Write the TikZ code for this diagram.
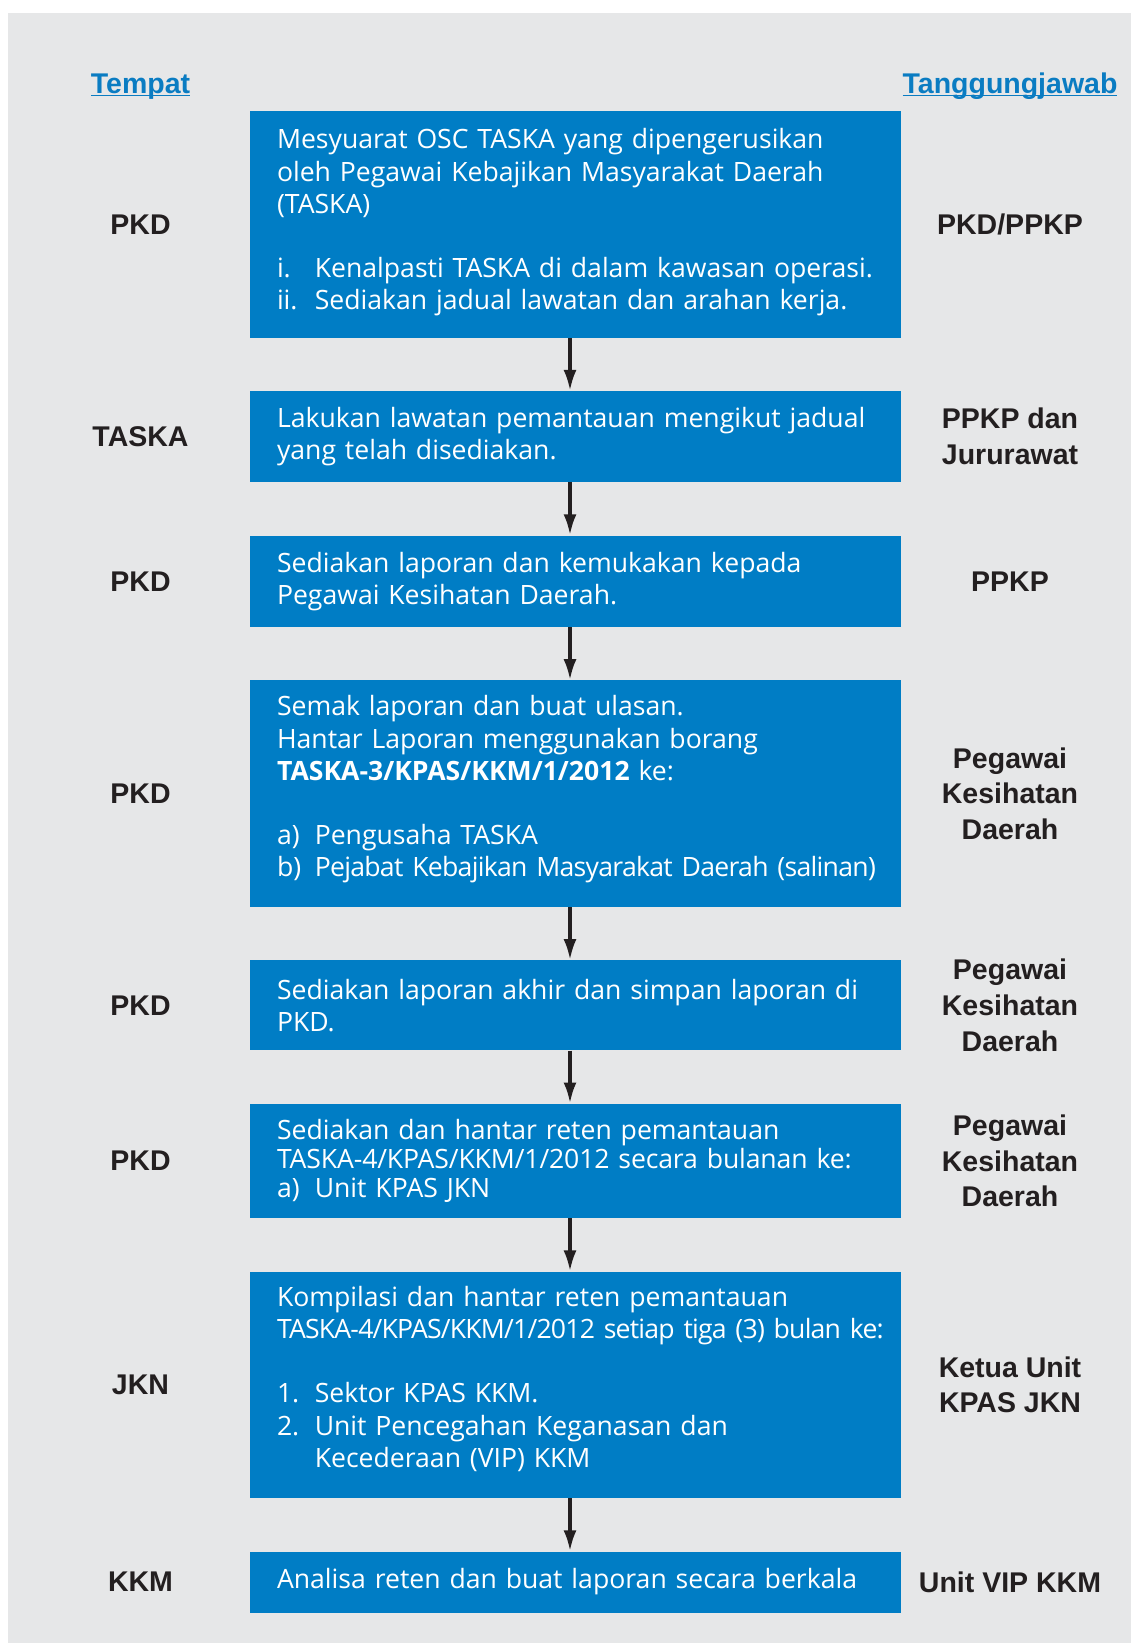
\documentclass[tikz,border=0pt]{standalone}
\usepackage{fontspec}
\setmainfont{Open Sans}
\newfontfamily\lblfont{Liberation Sans}
\usetikzlibrary{positioning,arrows.meta}
\definecolor{boxblue}{RGB}{0,125,197}
\definecolor{bggray}{RGB}{230,231,232}
\definecolor{headblue}{RGB}{10,124,194}
\definecolor{inkblack}{RGB}{35,31,32}
\newcommand\itm[1]{\makebox[37.8pt][l]{#1}}
\newcommand\tightline[2]{\mbox{\addfontfeatures{LetterSpace=#1}#2}}
\newcommand\hdrule[1]{\setbox0\hbox{#1}\rlap{\color{headblue}\rule[-3.2pt]{\wd0}{1.5pt}}\box0}
\tikzset{
  stepbox/.style={fill=boxblue, text=white, text width=597pt, inner xsep=27pt, inner ysep=0pt, align=left,
    font=\fontsize{26.6}{32.2}\selectfont},
  lift/.style={execute at end node={\par\vspace*{#1}}},
  place/.style={font=\lblfont\bfseries\fontsize{28.5}{35.6}\selectfont, text=inkblack, align=center},
  head/.style={font=\lblfont\bfseries\fontsize{28.5}{34}\selectfont, text=headblue, anchor=base},
  flow/.style={->, draw=inkblack, line width=3.5pt}
}
\begin{document}
\begin{tikzpicture}[x=1pt,y=-1pt,node distance=53pt,>={Latex[length=21pt,width=13pt]}]
\useasboundingbox (0,0) rectangle (1131,1643);
\fill[bggray] (8,13) rectangle (1131,1643);
\coordinate (lcol) at (140.5,0);
\coordinate (rcol) at (1010,0);
\coordinate (acol) at (570,0);
% headings
\node[head] (htempat) at (140.5,93.3) {\hdrule{Tempat}};
\node[head] (htanggung) at (1010,93.3) {\hdrule{Tanggungjawab}};
% steps
\node[stepbox, lift=4pt, minimum height=226.5pt, anchor=north] (s1) at (575.5,111) {Mesyuarat OSC TASKA yang dipengerusikan\\ oleh Pegawai Kebajikan Masyarakat Daerah\\ (TASKA)\\[32.2pt] \itm{i.}Kenalpasti TASKA di dalam kawasan operasi.\\ \itm{ii.}Sediakan jadual lawatan dan arahan kerja.};
\node[stepbox, minimum height=91pt, below=of s1] (s2) {Lakukan lawatan pemantauan mengikut jadual\\ yang telah disediakan.};
\node[stepbox, minimum height=91.5pt, below=of s2] (s3) {Sediakan laporan dan kemukakan kepada\\ Pegawai Kesihatan Daerah.};
\node[stepbox, lift=8.5pt, minimum height=226.5pt, below=of s3] (s4) {Semak laporan dan buat ulasan.\\ Hantar Laporan menggunakan borang\\ \textbf{TASKA-3/KPAS/KKM/1/2012} ke:\\[32.2pt] \itm{a)}Pengusaha TASKA\\ \itm{b)}\tightline{-2.7}{Pejabat Kebajikan Masyarakat Daerah (salinan)}};
\node[stepbox, minimum height=90pt, below=of s4] (s5) {Sediakan laporan akhir dan simpan laporan di\\ PKD.};
\node[stepbox, minimum height=114.5pt, below=of s5, font=\fontsize{26.6}{29.3}\selectfont] (s6) {Sediakan dan hantar reten pemantauan\\ \tightline{-0.5}{TASKA-4/KPAS/KKM/1/2012 secara bulanan ke:}\\ \itm{a)}Unit KPAS JKN};
\node[stepbox, lift=12pt, minimum height=226.5pt, below=of s6] (s7) {Kompilasi dan hantar reten pemantauan\\ \tightline{-3}{TASKA-4/KPAS/KKM/1/2012 setiap tiga (3) bulan ke:}\\[32.2pt] \itm{1.}Sektor KPAS KKM.\\ \itm{2.}Unit Pencegahan Keganasan dan\\ \itm{}Kecederaan (VIP) KKM};
\node[stepbox, minimum height=61pt, below=of s7] (s8) {Analisa reten dan buat laporan secara berkala};
% arrows
\foreach \a/\b in {s1/s2,s2/s3,s3/s4,s4/s5,s5/s6,s6/s7,s7/s8}
  \draw[flow] (\a.south -| acol) -- (\b.north -| acol);
% tempat
\node[place] (t1) at (s1 -| lcol) {PKD};
\node[place] (t2) at (s2 -| lcol) {TASKA};
\node[place] (t3) at (s3 -| lcol) {PKD};
\node[place] (t4) at (s4 -| lcol) {PKD};
\node[place] (t5) at (s5 -| lcol) {PKD};
\node[place] (t6) at (s6 -| lcol) {PKD};
\node[place] (t7) at (s7 -| lcol) {JKN};
\node[place] (t8) at (s8 -| lcol) {KKM};
% tanggungjawab
\node[place] (j1) at (s1 -| rcol) {PKD/PPKP};
\node[place] (j2) at (s2 -| rcol) {PPKP dan\\Jururawat};
\node[place] (j3) at (s3 -| rcol) {PPKP};
\node[place] (j4) at (s4 -| rcol) {Pegawai\\Kesihatan\\Daerah};
\node[place] (j5) at (s5 -| rcol) {Pegawai\\Kesihatan\\Daerah};
\node[place] (j6) at (s6 -| rcol) {Pegawai\\Kesihatan\\Daerah};
\node[place] (j7) at (s7 -| rcol) {Ketua Unit\\KPAS JKN};
\node[place] (j8) at (s8 -| rcol) {Unit VIP KKM};
\end{tikzpicture}
\end{document}
